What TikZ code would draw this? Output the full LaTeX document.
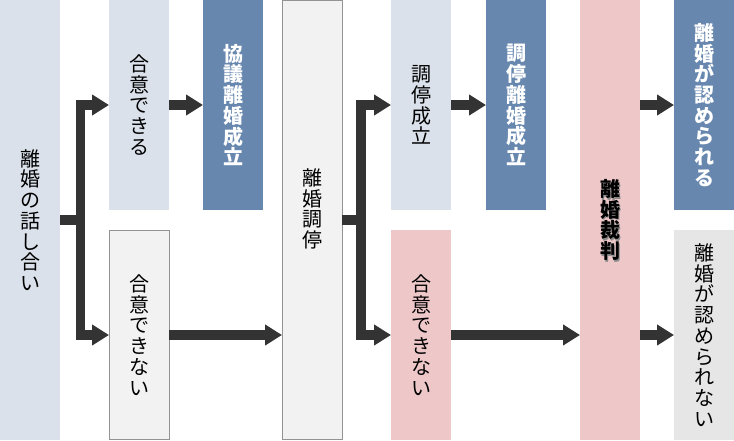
\documentclass[tikz,border=0pt]{standalone}
\usepackage{fontspec}
\newfontfamily\jp{Noto Sans CJK JP}
\usetikzlibrary{arrows.meta}
\definecolor{lb}{HTML}{DAE1EA}
\definecolor{bl}{HTML}{6787AF}
\definecolor{pk}{HTML}{EEC8C9}
\definecolor{lg}{HTML}{F2F2F2}
\definecolor{mg}{HTML}{E6E6E6}
\definecolor{ar}{HTML}{333333}
\begin{document}
\begin{tikzpicture}[x=1pt,y=-1pt,
  box/.style={minimum width=60pt, inner sep=0pt, outer sep=0pt, align=center,
    font=\jp\fontsize{20}{20.7}\selectfont},
  tall/.style={box, minimum height=440pt},
  half/.style={box, minimum height=210pt},
  lite/.style={fill=lb},
  dark/.style={fill=bl, text=white, font=\jp\bfseries\fontsize{20}{20.7}\selectfont},
  pinkbox/.style={fill=pk},
  greybox/.style={fill=lg, draw=gray!85, line width=0.8pt},
  txt/.style={inner sep=0pt, align=center, font=\jp\fontsize{20}{20.7}\selectfont},
  arr/.style={draw=ar, line width=9.5pt, -{Triangle[width=20pt,length=17pt]}}
]
\useasboundingbox (0,0) rectangle (734,440);
% boxes
\node[tall, lite] (b1) at (30,220) {離\\婚\\の\\話\\し\\合\\い};
\node[half, lite] (b2) at (139,105) {合\\意\\で\\き\\る};
\node[half, dark] (b3) at (233,105) {協\\議\\離\\婚\\成\\立};
\node[box, greybox, minimum height=209pt] (b4) at (139,335) {合\\意\\で\\き\\な\\い};
\node[box, greybox, minimum height=439pt] (b5) at (312,220) {};
\node[txt] (t5) at (312,209) {離\\婚\\調\\停};
\node[half, lite] (b6) at (421,105) {調\\停\\成\\立};
\node[half, dark] (b7) at (516,105) {調\\停\\離\\婚\\成\\立};
\node[half, pinkbox] (b8) at (421,335) {合\\意\\で\\き\\な\\い};
\node[tall, pinkbox] (b9) at (610,220) {};
\node[txt, text=black!45, font=\jp\bfseries\fontsize{20}{20.7}\selectfont] (t9s) at (611.5,221.5) {離\\婚\\裁\\判};
\node[txt, font=\jp\bfseries\fontsize{20}{20.7}\selectfont] (t9) at (610,220) {離\\婚\\裁\\判};
\node[half, dark] (b10) at (704,105) {離\\婚\\が\\認\\め\\ら\\れ\\る};
\node[half, fill=mg] (b11) at (704,335) {離\\婚\\が\\認\\め\\ら\\れ\\な\\い};
% connectors
\draw[arr] (b1.east) -- ++(20.5,0) |- (b2.west);
\draw[arr] (b1.east) -- ++(20.5,0) |- (b4.west);
\draw[arr] (b2.east) -- (b3.west);
\draw[arr] (b4.east) -- (b4.east -| b5.west);
\draw[arr] (b5.east) -- ++(19,0) |- (b6.west);
\draw[arr] (b5.east) -- ++(19,0) |- (b8.west);
\draw[arr] (b6.east) -- (b7.west);
\draw[arr] (b8.east) -- (b8.east -| b9.west);
\draw[arr] (b9.east |- b10.west) -- (b10.west);
\draw[arr] (b9.east |- b11.west) -- (b11.west);
\end{tikzpicture}
\end{document}
